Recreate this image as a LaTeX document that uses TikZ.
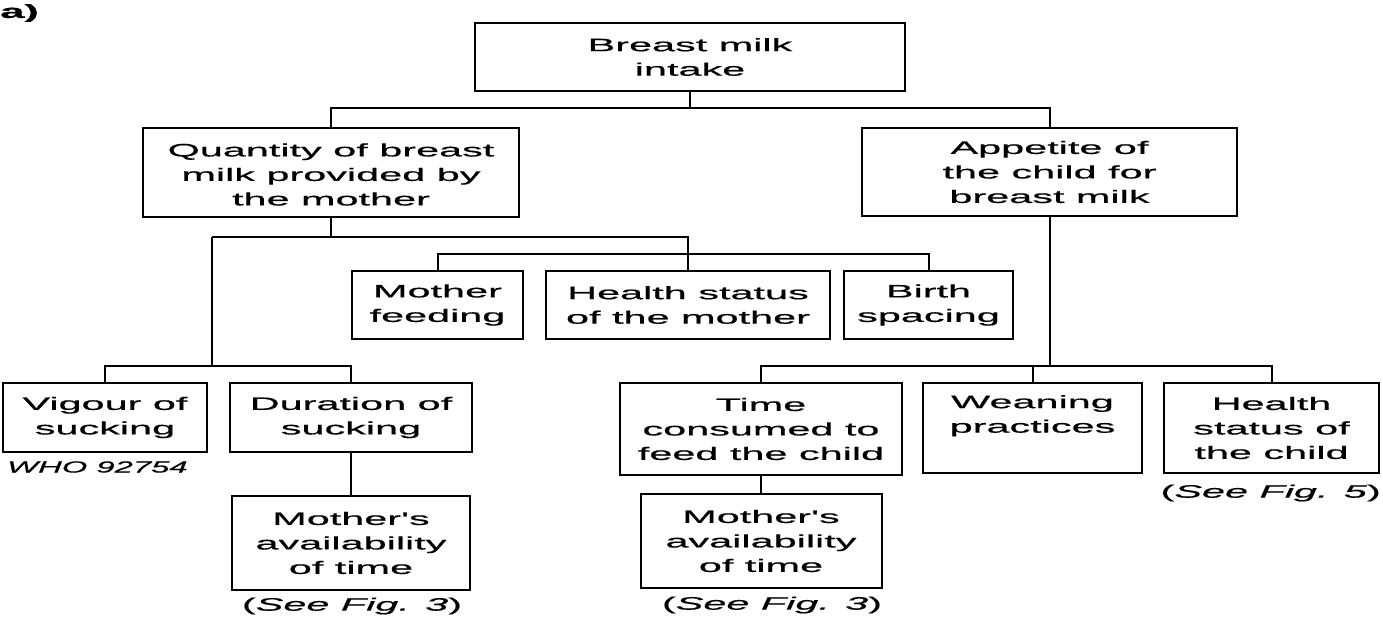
\documentclass[tikz,border=0pt]{standalone}
\usepackage{fontspec}
\newfontfamily\diagfont[FakeStretch=2.3,FakeBold=0.6]{Liberation Sans}
\newfontfamily\codefont[FakeStretch=2.05,FakeBold=0.6]{Liberation Sans}
\begin{document}
\begin{tikzpicture}[x=1pt,y=-1pt,
  txt/.style={font=\diagfont\fontsize{18}{24.5}\selectfont},
  box/.style n args={2}{draw, line width=2pt, inner sep=0pt, align=center,
    minimum width=#1, minimum height=#2, txt},
  link/.style={line width=2pt},
  note/.style={inner sep=0pt, txt}]
\useasboundingbox (0,0) rectangle (1383,620);

% panel letter
\node[note, anchor=west, font=\diagfont\fontsize{19}{24}\selectfont] (tag) at (0,13) {\bfseries a)};

% level 0
\node[box={430pt}{68pt}] (top) at (690,57) {Breast milk\\intake};

% level 1
\node[box={376pt}{89pt}] (qty) at (331,172.5) {\rule{0pt}{17pt}Quantity of breast\\milk provided by\\the mother};
\node[box={375pt}{88pt}] (app) at (1049.5,172) {Appetite of\\the child for\\breast milk};

% mother-side factors
\node[box={171pt}{68pt}] (mfeed) at (437.5,305) {Mother\\feeding};
\node[box={284pt}{68pt}] (hmoth) at (688,305) {Health status\\of the mother};
\node[box={169pt}{68pt}] (birth) at (928.5,305) {Birth\\spacing};

% sucking factors
\node[box={204pt}{69pt}] (vig) at (105,417.5) {Vigour of\\sucking};
\node[box={242pt}{69pt}] (dur) at (351,417.5) {Duration of\\sucking};
\node[box={238pt}{94pt}] (mav1) at (351,543) {Mother's\\availability\\of time};

% child-side factors
\node[box={282pt}{92pt}] (time) at (761,429) {Time\\consumed to\\feed the child};
\node[box={219pt}{90pt}] (wean) at (1032.5,428) {Weaning\\practices\\\phantom{p}};
\node[box={215pt}{90pt}] (hchild) at (1271.5,428) {Health\\status of\\the child};
\node[box={241pt}{94pt}] (mav2) at (761,541) {Mother's\\availability\\of time};

% notes
\node[note, anchor=west, font=\codefont\fontsize{16}{20}\selectfont\itshape] (who) at (7,467) {WHO 92754};
\node[note] (ref1) at (352,606) {(\textit{See Fig. 3})};
\node[note] (ref2) at (772,605) {(\textit{See Fig. 3})};
\node[note, anchor=east] (ref3) at (1381,493) {(\textit{See Fig. 5})};

% junction points
\coordinate (j0) at (690,108);
\coordinate (jq) at (212,237);
\coordinate (jm) at (688,254);
\coordinate (jl) at (212,366);
\coordinate (jr) at (1049.5,366);

% connectors
\draw[link] (top.south) -- (j0);
\draw[link] (qty.north) |- (j0) -| (app.north);

\draw[link] (qty.south) -- (qty.south |- jq);
\draw[link] (jq) -- (hmoth.north |- jq) -- (hmoth.north);
\draw[link] (mfeed.north) |- (jm) -| (birth.north);
\draw[link] (jq) -- (jl);
\draw[link] (vig.north) |- (jl) -| (dur.north);
\draw[link] (dur.south) -- (mav1.north);

\draw[link] (app.south) -- (jr);
\draw[link] (time.north) |- (jr) -| (hchild.north);
\draw[link] (wean.north) -- (wean.north |- jr);
\draw[link] (time.south) -- (mav2.north);
\end{tikzpicture}
\end{document}
